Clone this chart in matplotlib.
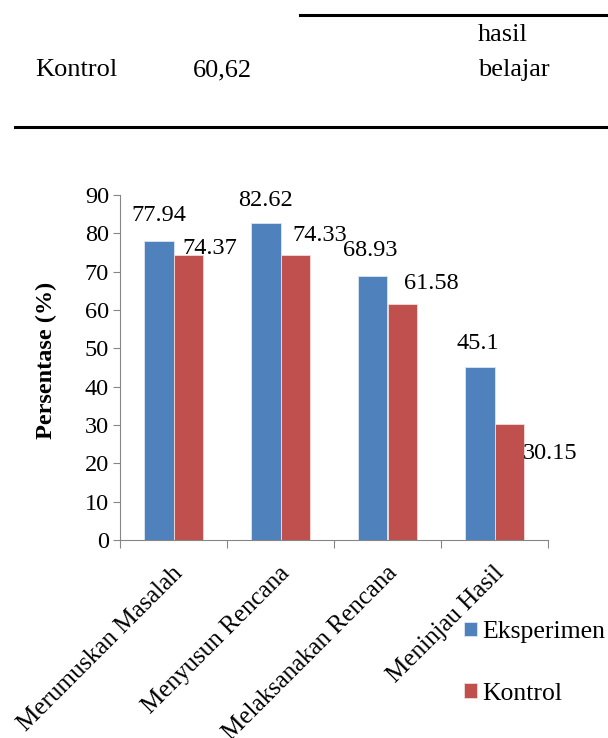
import matplotlib.pyplot as plt
import numpy as np

categories = ["Merumuskan Masalah", "Menyusun Rencana", "Melaksanakan Rencana", "Meninjau Hasil"]
eksperimen = [77.94, 82.62, 68.93, 45.1]
kontrol = [74.37, 74.33, 61.58, 30.15]
series_names = ["Eksperimen", "Kontrol"]

# label offsets in pixels (dx, dy) from the bar top centre, as in the source image
eks_offsets = [(0, 26), (0, 23), (-2, 25), (-2, 24)]
kon_offsets = [(21, 6), (24, 20), (29, 20), (41, -29)]

plt.rcParams['font.family'] = ['Liberation Serif', 'DejaVu Serif']

fig = plt.figure(figsize=(6.08, 7.38), dpi=100)

# table fragment above the chart
fig.add_artist(plt.Line2D([300 / 608, 1.0], [1 - 15 / 738] * 2, color='black', lw=2.2))
fig.add_artist(plt.Line2D([15 / 608, 1.0], [1 - 127 / 738] * 2, color='black', lw=2.2))
fig.text(35 / 608, 1 - 70 / 738, "Kontrol", fontsize=19, va='center')
fig.text(193 / 608, 1 - 70 / 738, "60,62", fontsize=19, va='center')
fig.text(478 / 608, 1 - 35 / 738, "hasil", fontsize=19, va='center')
fig.text(478 / 608, 1 - 70 / 738, "belajar", fontsize=19, va='center')

ax = fig.add_axes([120 / 608, 1 - 540 / 738, 428 / 608, 345 / 738])

x = np.arange(len(categories))
w = 0.28
b1 = ax.bar(x - w / 2, eksperimen, w, color='#4F81BD', edgecolor='#dce6f2', lw=0.6, label=series_names[0])
b2 = ax.bar(x + w / 2, kontrol, w, color='#C0504D', edgecolor='#f2dcdb', lw=0.6, label=series_names[1])

for rect, v, off in zip(b1, eksperimen, eks_offsets):
    ax.annotate(f"{v:g}", (rect.get_x() + rect.get_width() / 2, v), xytext=off,
                textcoords='offset pixels', ha='center', va='center', fontsize=17.5)
for rect, v, off in zip(b2, kontrol, kon_offsets):
    ax.annotate(f"{v:g}", (rect.get_x() + rect.get_width() / 2, v), xytext=off,
                textcoords='offset pixels', ha='center', va='center', fontsize=17.5)

ax.set_xlim(-0.5, len(categories) - 0.5)
ax.set_ylim(0, 90)
ax.set_yticks(range(0, 91, 10))
ax.tick_params(axis='y', labelsize=17.5, length=5, color='#868686', pad=3)
ax.set_xticks(np.arange(-0.5, len(categories), 1.0))
ax.set_xticklabels([])
ax.tick_params(axis='x', length=6, color='#868686')
for s in ['top', 'right']:
    ax.spines[s].set_visible(False)
for s in ['left', 'bottom']:
    ax.spines[s].set_color('#868686')

for i, c in enumerate(categories):
    ax.annotate(c, (i, 0), xytext=(6, -30), textcoords='offset pixels',
                rotation=45, ha='right', va='center', rotation_mode='anchor', fontsize=18)

ax.set_ylabel("Persentase (%)", fontsize=17.5, fontweight='bold')
ax.yaxis.set_label_coords(-0.147, 0.52)

fig.legend(handles=[b1, b2], loc='center left', bbox_to_anchor=(464 / 608, 1 - 663 / 738),
           frameon=False, fontsize=18.5, handlelength=0.5, handleheight=0.5,
           handletextpad=0.2, labelspacing=1.55, borderpad=0, borderaxespad=0)

fig.savefig("out.png", dpi=100)
